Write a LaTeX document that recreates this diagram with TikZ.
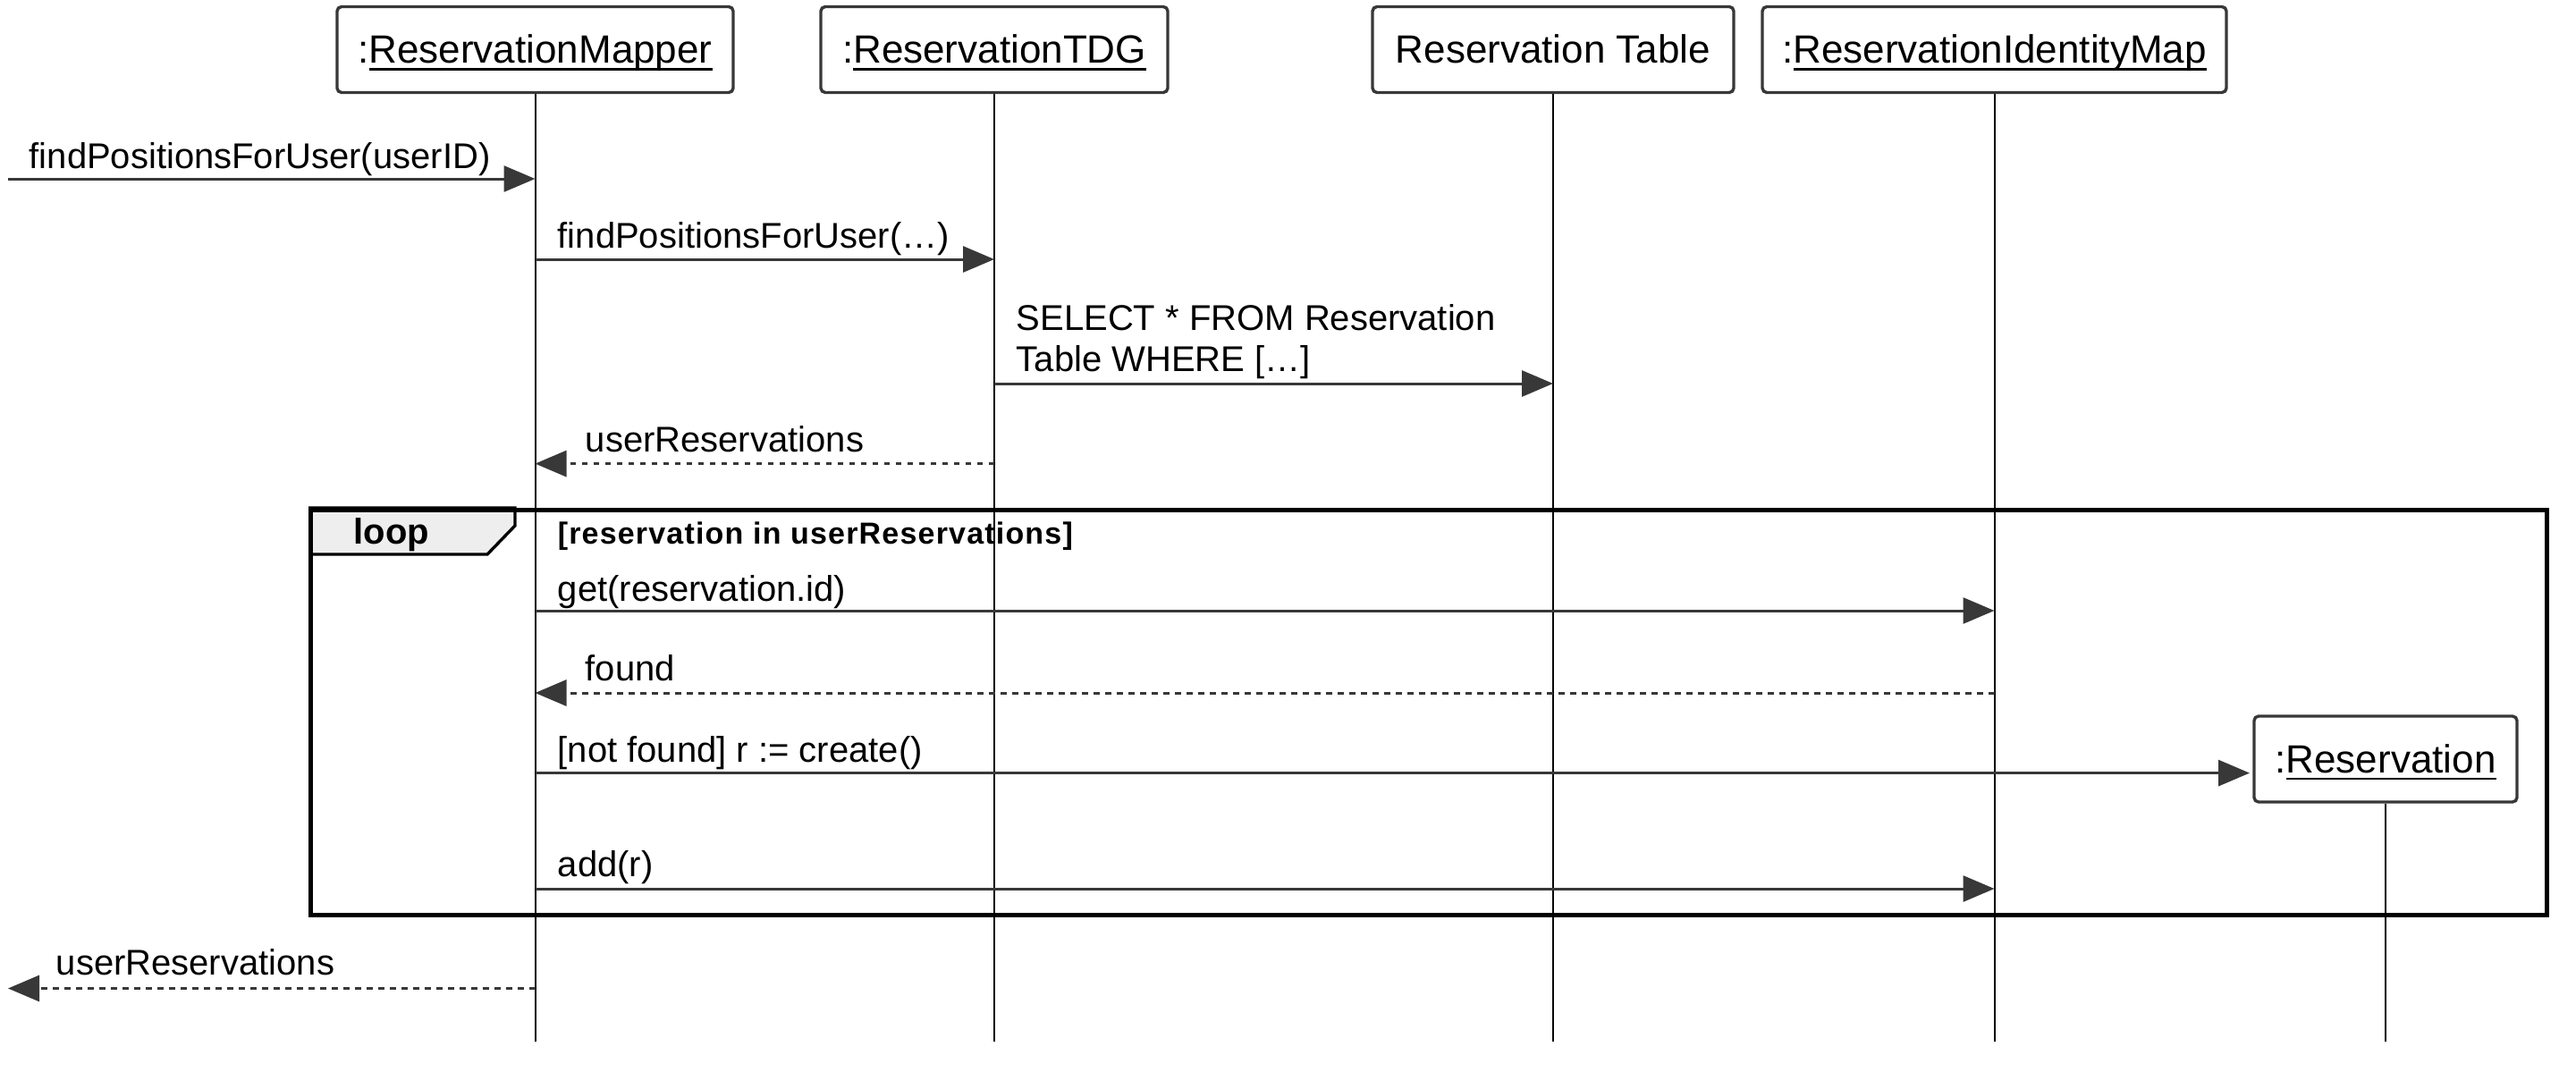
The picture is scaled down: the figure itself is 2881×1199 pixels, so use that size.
\documentclass[tikz,border=0pt]{standalone}
\usepackage{fontspec}
\setmainfont{Liberation Sans}
\newfontfamily\guardfont[LetterSpace=3.5]{Liberation Sans}
\usetikzlibrary{arrows.meta}
\definecolor{arrowgray}{HTML}{383838}
\definecolor{tabgray}{HTML}{EEEEEE}
\newcommand\objul[1]{\setbox0\hbox{#1}\rlap{\rule[-1.9pt]{\wd0}{0.6pt}}\box0}
\begin{document}
\begin{tikzpicture}[x=0.25pt,y=-0.25pt,
  participant/.style={draw=arrowgray, line width=0.85pt, rounded corners=1.25pt, fill=white,
    minimum height=24pt, inner sep=0pt, font=\fontsize{11}{13}\selectfont,
    text height=9.35pt, text depth=1.65pt},
  lifeline/.style={draw=black, line width=0.5pt},
  msg/.style={draw=arrowgray, line width=0.75pt, -{Triangle[length=8.75pt,width=7.25pt]}},
  ret/.style={msg, dash pattern=on 1.6pt off 1.65pt},
  lbl/.style={anchor=base west, inner sep=0pt, font=\fontsize{10}{11.5}\selectfont, text=black},
  frame/.style={draw=black, line width=1.25pt}
]
\useasboundingbox (0,0) rectangle (2881,1199);

% participants
\node[participant, minimum width=110.75pt] (mapper) at (598.5,55.5) {:\objul{ReservationMapper}};
\node[participant, minimum width=97pt] (tdg) at (1112,55.5) {:\objul{ReservationTDG}};
\node[participant, minimum width=101pt] (table) at (1737,55.5) {Reservation Table};
\node[participant, minimum width=129.75pt] (idmap) at (2230.5,55.5) {:\objul{ReservationIdentityMap}};
\node[participant, minimum width=73.5pt] (resv) at (2668,849) {:\objul{Reservation}};

% lifelines
\coordinate (bottom) at (0,1165);
\draw[lifeline] (mapper.south) -- (mapper.south |- bottom);
\draw[lifeline] (tdg.south) -- (tdg.south |- bottom);
\draw[lifeline] (table.south) -- (table.south |- bottom);
\draw[lifeline] (idmap.south) -- (idmap.south |- bottom);
\draw[lifeline] (resv.south) -- (resv.south |- bottom);

% loop frame
\draw[fill=tabgray, draw=black, line width=0.85pt] (345,568) -- (576,568) -- (576,588) -- (545,620) -- (345,620);
\node[frame, anchor=north west, minimum width=625.25pt, minimum height=113.25pt, inner sep=0pt] (loopframe) at (345,568) {};
\node[lbl, font=\fontsize{10}{12}\selectfont\bfseries] (looplbl) at (395,608) {loop};
\node[lbl, font=\guardfont\fontsize{8.5}{10}\selectfont\bfseries] (guard) at (623,608) {[reservation in userReservations]};

% message 1
\coordinate (in1) at (9,200);
\draw[msg] (in1) -- (mapper.south |- in1);
\node[lbl] (l1) at (32,188) {findPositionsForUser(userID)};

% message 2
\coordinate (y2) at (0,290);
\draw[msg] (mapper.south |- y2) -- (tdg.south |- y2);
\node[lbl] (l2) at (623,277) {findPositionsForUser(…)};

% message 3
\coordinate (y3) at (0,429);
\draw[msg] (tdg.south |- y3) -- (table.south |- y3);
\node[lbl, align=left] (l3) at (1136,415) {SELECT * FROM Reservation\\Table WHERE […]};

% message 4 (return)
\coordinate (y4) at (0,518.6);
\draw[ret] (tdg.south |- y4) -- (mapper.south |- y4);
\node[lbl] (l4) at (654,505) {userReservations};

% get
\coordinate (y5) at (0,683);
\draw[msg] (mapper.south |- y5) -- (idmap.south |- y5);
\node[lbl] (l5) at (623,672) {get(reservation.id)};

% found
\coordinate (y6) at (0,775);
\draw[ret] (idmap.south |- y6) -- (mapper.south |- y6);
\node[lbl] (l6) at (654,761) {found};

% create
\coordinate (y7) at (2516,864.6);
\draw[msg] (mapper.south |- y7) -- (y7);
\node[lbl] (l7) at (623,852) {[not found] r := create()};

% add
\coordinate (y8) at (0,994);
\draw[msg] (mapper.south |- y8) -- (idmap.south |- y8);
\node[lbl] (l8) at (623,980) {add(r)};

% final return
\coordinate (out1) at (9,1105.5);
\draw[ret] (mapper.south |- out1) -- (out1);
\node[lbl] (l9) at (62,1090) {userReservations};
\end{tikzpicture}
\end{document}
